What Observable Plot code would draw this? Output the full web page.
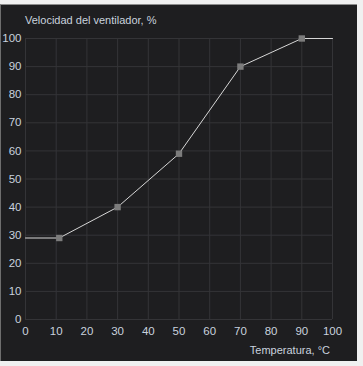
<!DOCTYPE html>
<html><head><meta charset="utf-8">
<script src="https://cdn.jsdelivr.net/npm/d3@7"></script>
<script src="https://cdn.jsdelivr.net/npm/@observablehq/plot@0.6"></script>
<style>
html,body{margin:0;padding:0;background:#f0f0f0;width:363px;height:366px;overflow:hidden;}
#panel{position:absolute;left:0;top:4px;width:356px;height:356px;background:#1e1e20;border-left:1px solid #6e6e6e;border-top:1px solid #8c8c8c;}
#chart{position:absolute;left:0;top:0;}
.t{position:absolute;font-family:"Liberation Sans",Arial,sans-serif;font-size:11px;color:#c9d2de;white-space:nowrap;}
</style></head>
<body>
<div id="panel"></div>
<div id="chart"></div>
<div class="t" id="title" style="left:25px;top:14px;">Velocidad del ventilador, %</div>
<div class="t" id="xlabel" style="right:33px;top:344px;">Temperatura, °C</div>
<script>
const temps = [11, 30, 50, 70, 90];
const speeds = [29, 40, 59, 90, 100];
const xTicks = [0, 10, 20, 30, 40, 50, 60, 70, 80, 90, 100];
const yTicks = [0, 10, 20, 30, 40, 50, 60, 70, 80, 90, 100];

const pts = temps.map((t, i) => ({t, s: speeds[i]}));
const linePts = [{t: xTicks[0], s: speeds[0]}, ...pts, {t: xTicks[xTicks.length - 1], s: speeds[speeds.length - 1]}];

const plot = Plot.plot({
  width: 363, height: 366,
  marginLeft: 25, marginRight: 31, marginTop: 38, marginBottom: 47,
  style: {background: "transparent", fontFamily: "Liberation Sans, Arial, sans-serif", fontSize: "11.5px", color: "#c9d2de"},
  x: {domain: [0, 100], ticks: xTicks, label: null},
  y: {domain: [0, 100], ticks: yTicks, label: null},
  marks: [
    Plot.gridX(xTicks, {stroke: "#343437", strokeOpacity: 1}),
    Plot.gridY(yTicks, {stroke: "#343437", strokeOpacity: 1}),
    Plot.axisX(xTicks, {tickSize: 0, tickPadding: 7, fill: "#c9d2de"}),
    Plot.axisY(yTicks, {tickSize: 0, tickPadding: 4, fill: "#c9d2de"}),
    Plot.line(linePts, {x: "t", y: "s", stroke: "#d6d6d6", strokeWidth: 1}),
    Plot.dot(pts, {x: "t", y: "s", symbol: "square", r: 3.6, fill: "#7c7c7c", stroke: "none"})
  ]
});
document.getElementById("chart").appendChild(plot);
</script>
</body></html>
